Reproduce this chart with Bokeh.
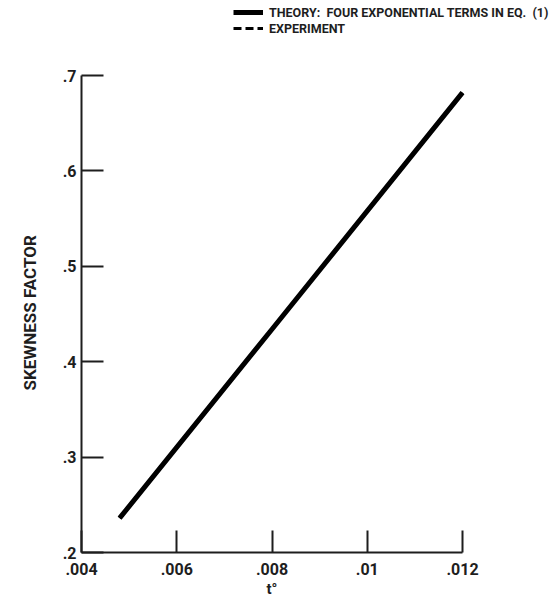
from bokeh.plotting import figure
from bokeh.models import Legend, LegendItem, FixedTicker, Range1d, Title
from bokeh.embed import file_html
from bokeh.resources import INLINE

# Skewness factor versus dimensionless time t°
t_theory = [0.0048, 0.0080, 0.0120]
skew_theory = [0.236, 0.434, 0.682]

t_experiment = [0.0048, 0.0080, 0.0120]
skew_experiment = [0.236, 0.434, 0.682]

x_ticks = [0.004, 0.006, 0.008, 0.010, 0.012]
x_tick_labels = [".004", ".006", ".008", ".01", ".012"]
y_ticks = [0.2, 0.3, 0.4, 0.5, 0.6, 0.7]
y_tick_labels = [".2", ".3", ".4", ".5", ".6", ".7"]

FONT = "Roboto"
INK = "#1e1e1e"

# The axes span .004-.012 and .2-.7; the frame reaches further up and to the
# right so the key above the plot sits inside it.
X_LO, X_HI = 0.004, 0.012
Y_LO, Y_HI = 0.2, 0.7
x_px = (X_HI - X_LO) / 381.0
y_px = (Y_HI - Y_LO) / 477.0

p = figure(width=553, height=604, output_backend="svg", toolbar_location=None,
           x_range=Range1d(X_LO, X_HI + 91 * x_px),
           y_range=Range1d(Y_LO, Y_HI + 75 * y_px),
           min_border_left=81, min_border_right=0, min_border_top=0,
           min_border_bottom=52)
p.outline_line_color = None
p.grid.visible = False
p.background_fill_color = "white"
p.border_fill_color = "white"

r_theory = p.line(t_theory, skew_theory, line_color="black", line_width=5)
r_exp = p.line(t_experiment, skew_experiment, line_color="black", line_width=3,
               line_dash="8 4")

for ax, ticks, labels, bounds in ((p.xaxis[0], x_ticks, x_tick_labels, (X_LO, X_HI)),
                                  (p.yaxis[0], y_ticks, y_tick_labels, (Y_LO, Y_HI))):
    ax.bounds = bounds
    ax.ticker = FixedTicker(ticks=ticks)
    ax.major_label_overrides = {t: l for t, l in zip(ticks, labels)}
    ax.minor_tick_line_color = None
    ax.major_tick_in = 22
    ax.major_tick_out = 0
    ax.major_tick_line_width = 2
    ax.axis_line_width = 2
    ax.axis_line_color = INK
    ax.major_tick_line_color = INK
    ax.major_label_text_font = FONT
    ax.major_label_text_font_size = "16px"
    ax.major_label_text_font_style = "bold"
    ax.major_label_text_color = INK

p.xaxis.major_label_standoff = 10
p.yaxis.major_label_standoff = 5

# Axis titles, placed along the drawn axis spans
p.add_layout(Title(text="SKEWNESS FACTOR", align="left", offset=162,
                   vertical_align="top",
                   text_font=FONT, text_font_size="17px", text_font_style="bold",
                   text_color=INK, standoff=36), "left")
p.add_layout(Title(text="t°", align="left", offset=185,
                   text_font=FONT, text_font_size="15px", text_font_style="bold",
                   text_color=INK, standoff=0), "below")

legend = Legend(items=[
    LegendItem(label="THEORY:  FOUR EXPONENTIAL TERMS IN EQ.  (1)", renderers=[r_theory]),
    LegendItem(label="EXPERIMENT", renderers=[r_exp]),
], location=(152, 516), padding=0, margin=0, spacing=0,
   glyph_width=30, glyph_height=16, label_standoff=6,
   label_text_font=FONT, label_text_font_size="12.5px",
   label_text_font_style="bold", label_text_color=INK,
   border_line_color=None, background_fill_alpha=0)
p.add_layout(legend, "center")

open("out.html", "w").write(file_html(p, INLINE))
